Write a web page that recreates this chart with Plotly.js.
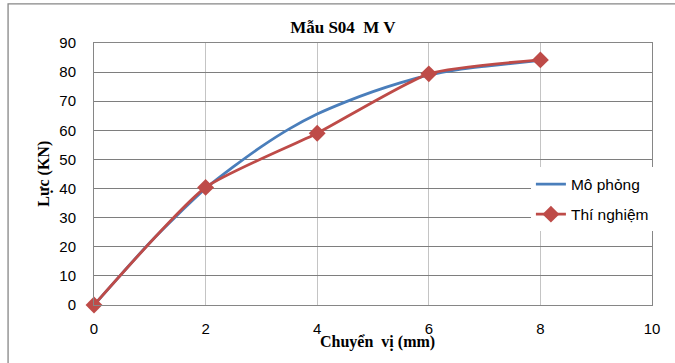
<!DOCTYPE html>
<html>
<head>
<meta charset="utf-8">
<script src="https://cdn.plot.ly/plotly-3.0.1.min.js"></script>
<style>
  html, body { margin: 0; padding: 0; background: #ffffff; }
  #chart { width: 675px; height: 363px; }
</style>
</head>
<body>
<div id="chart"></div>
<script>
// Displacement (mm) vs. force (kN), specimen S04 M V
const simX = [0, 0.5, 1, 1.5, 2, 2.5, 3, 3.5, 4, 4.5, 5, 5.5, 6, 6.5, 7, 7.5, 8];
const simY = [0, 10.8, 21.4, 31, 40, 47.5, 54.4, 60.5, 65.6, 69.7, 73.3, 76.4, 79, 80.8, 82, 83, 84];
const testX = [0, 2, 4, 6, 8];
const testY = [0, 40.4, 59, 79.4, 84.2];

const xTicks = [0, 2, 4, 6, 8, 10];
const yTicks = [0, 10, 20, 30, 40, 50, 60, 70, 80, 90];

const chartTitle = 'Mẫu S04  M V';
const xTitle = 'Chuyển  vị (mm)';
const yTitle = 'Lực (KN)';
const simName = 'Mô phỏng';
const testName = 'Thí nghiệm';

const serif = 'Liberation Serif, Times New Roman, serif';
const sans = 'Liberation Sans, Arial, sans-serif';

const traces = [
  {
    x: simX, y: simY, name: simName, type: 'scatter', mode: 'lines', legendgroup: 'sim',
    line: { color: '#4a7ebb', width: 2.8, shape: 'spline', smoothing: 0.8 },
    cliponaxis: false
  },
  {
    x: testX, y: testY, name: testName, type: 'scatter', mode: 'lines+markers', legendgroup: 'test',
    line: { color: '#be4b48', width: 2.8, shape: 'spline', smoothing: 0.55 },
    marker: { symbol: 'diamond', size: 13, color: '#be4b48' },
    cliponaxis: false
  }
];

const layout = {
  width: 675, height: 363,
  margin: { l: 94, r: 23, t: 43, b: 58 },
  paper_bgcolor: '#ffffff', plot_bgcolor: '#ffffff',
  showlegend: true,
  title: {
    text: '<b>' + chartTitle + '</b>',
    font: { family: serif, size: 17, color: '#000000' },
    xref: 'container', x: 0.508, xanchor: 'center',
    yref: 'container', y: 0.925, yanchor: 'middle'
  },
  xaxis: {
    range: [0, 10], tickvals: xTicks, ticktext: xTicks.map(String),
    showgrid: true, gridcolor: '#c4c4c4', gridwidth: 1,
    zeroline: false, showline: true, mirror: true, linecolor: '#868686', linewidth: 1,
    ticks: '', ticklabelstandoff: 10,
    tickfont: { family: sans, size: 15, color: '#000000' },
    fixedrange: true
  },
  yaxis: {
    range: [0, 90], tickvals: yTicks, ticktext: yTicks.map(String),
    showgrid: true, gridcolor: '#7e7e7e', gridwidth: 1,
    zeroline: false, showline: true, mirror: true, linecolor: '#868686', linewidth: 1,
    ticks: '', ticklabelstandoff: 14,
    tickfont: { family: sans, size: 15, color: '#000000' },
    fixedrange: true
  },
  legend: {
    x: 0.783, xanchor: 'left', y: 0.525, yanchor: 'top',
    bgcolor: '#ffffff', borderwidth: 0, traceorder: 'grouped',
    font: { family: sans, size: 15.5, color: '#000000' },
    itemwidth: 30, tracegroupgap: 7
  },
  annotations: [
    {
      text: '<b>' + xTitle + '</b>', xref: 'paper', yref: 'paper',
      x: 0.508, y: -0.14, xanchor: 'center', yanchor: 'middle', showarrow: false,
      font: { family: serif, size: 16, color: '#000000' }
    },
    {
      text: '<b>' + yTitle + '</b>', xref: 'paper', yref: 'paper', textangle: -90,
      x: -0.09, y: 0.5, xanchor: 'center', yanchor: 'middle', showarrow: false,
      font: { family: serif, size: 16, color: '#000000' }
    },
    {
      text: 'g', xref: 'paper', yref: 'paper', x: -0.096, y: 1.165,
      xanchor: 'center', yanchor: 'bottom', showarrow: false,
      font: { family: serif, size: 16, color: '#000000' }
    }
  ],
  shapes: [
    {
      type: 'rect', xref: 'paper', yref: 'paper',
      x0: -0.154, x1: 1.06, y0: -0.26, y1: 1.149,
      line: { color: '#868686', width: 1.3 }, fillcolor: 'rgba(0,0,0,0)', layer: 'below'
    }
  ]
};

Plotly.newPlot('chart', traces, layout, { displayModeBar: false, staticPlot: true });
</script>
</body>
</html>
